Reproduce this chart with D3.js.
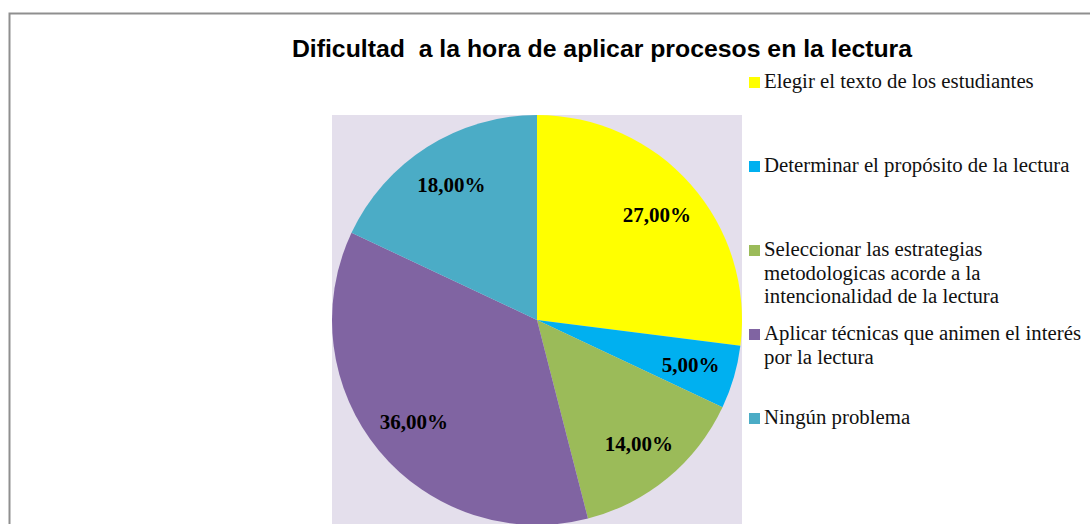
<!DOCTYPE html>
<html>
<head>
<meta charset="utf-8">
<script src="https://cdn.jsdelivr.net/npm/d3@7"></script>
<style>
  body { margin: 0; background: #fff; }
  svg { display: block; }
</style>
</head>
<body>
<div id="chart"></div>
<script>
var w = 1090; // page width
var h = 524;  // page height

// Chart data
var categories = [
    "Elegir el texto de los estudiantes",
    "Determinar el propósito de la lectura",
    "Seleccionar las estrategias metodologicas acorde a la intencionalidad de la lectura",
    "Aplicar técnicas que animen el interés por la lectura",
    "Ningún problema"
];
var values = [27, 5, 14, 36, 18];
var legendLines = [
    ["Elegir el texto de los estudiantes"],
    ["Determinar el propósito de la lectura"],
    ["Seleccionar las estrategias", "metodologicas acorde a la", "intencionalidad de la lectura"],
    ["Aplicar técnicas que animen el interés", "por la lectura"],
    ["Ningún problema"]
];
var colors = ["#FFFF00", "#00B0F0", "#9BBB59", "#8064A2", "#4BACC6"];
var title = "Dificultad  a la hora de aplicar procesos en la lectura";

var svg = d3.select("#chart")
    .append("svg")
    .attr("width", w)
    .attr("height", h);

// Outer chart frame (only left and top edges are inside the picture)
svg.append("rect")
    .attr("x", 9.5)
    .attr("y", 13.5)
    .attr("width", 1200)
    .attr("height", 600)
    .attr("fill", "#fff")
    .attr("stroke", "#8f8f8f")
    .attr("stroke-width", 2);

// Title
svg.append("text")
    .attr("x", 602)
    .attr("y", 57)
    .attr("text-anchor", "middle")
    .style("font-family", "Arial, 'Liberation Sans', sans-serif")
    .style("font-size", "24.8px")
    .style("font-weight", "bold")
    .style("white-space", "pre")
    .attr("xml:space", "preserve")
    .text(title);

// Plot area
var cx = 537, cy = 320, r = 205;
svg.append("rect")
    .attr("x", cx - r)
    .attr("y", cy - r)
    .attr("width", 2 * r)
    .attr("height", 2 * r)
    .attr("fill", "#E4DFEC");

var pie = d3.pie().sort(null).value(function(d) { return d; });
var arc = d3.arc().innerRadius(0).outerRadius(r);
var labelArc = d3.arc().innerRadius(r * 0.78).outerRadius(r * 0.78);
var color = d3.scaleOrdinal().domain(d3.range(values.length)).range(colors);

var g = svg.append("g").attr("transform", "translate(" + cx + "," + cy + ")");

g.selectAll("path")
    .data(pie(values))
    .enter()
    .append("path")
    .attr("d", arc)
    .attr("fill", function(d, i) { return color(i); })
    .attr("stroke", "none");

// Percent labels
g.selectAll("text.pct")
    .data(pie(values))
    .enter()
    .append("text")
    .attr("class", "pct")
    .attr("transform", function(d) { return "translate(" + labelArc.centroid(d) + ")"; })
    .attr("text-anchor", "middle")
    .attr("dy", "0.35em")
    .style("font-family", "'Liberation Serif', 'Times New Roman', serif")
    .style("font-size", "21px")
    .style("font-weight", "bold")
    .text(function(d) { return d.data.toFixed(2).replace(".", ",") + "%"; });

// Legend
var legendY = d3.scaleLinear().domain([0, categories.length - 1]).range([77, 413]);
var legend = svg.selectAll("g.legend")
    .data(categories)
    .enter()
    .append("g")
    .attr("class", "legend")
    .attr("transform", function(d, i) { return "translate(749," + legendY(i) + ")"; });

legend.append("rect")
    .attr("width", 11)
    .attr("height", 11)
    .attr("fill", function(d, i) { return color(i); });

legend.append("text")
    .attr("x", 15)
    .attr("y", 11)
    .style("font-family", "'Liberation Serif', 'Times New Roman', serif")
    .style("font-size", "20.8px")
    .style("fill", "#111")
    .selectAll("tspan")
    .data(function(d, i) { return legendLines[i]; })
    .enter()
    .append("tspan")
    .attr("x", 15)
    .attr("dy", function(d, j) { return j === 0 ? 0 : 23.5; })
    .text(function(d) { return d; });
</script>
</body>
</html>
